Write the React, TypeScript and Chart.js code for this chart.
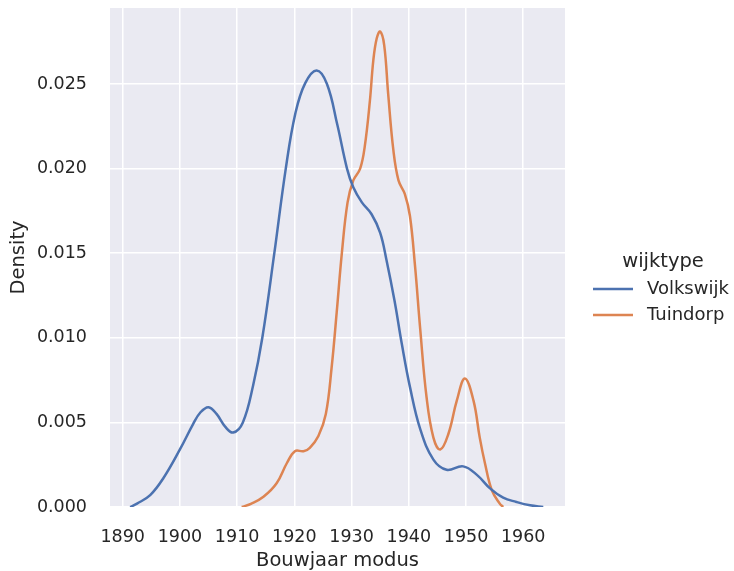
import React, { useEffect, useRef } from "react";
import { Chart, registerables } from "chart.js";

Chart.register(...registerables);

const seriesNames = ["Volkswijk", "Tuindorp"];
const legendTitle = "wijktype";
const xTitle = "Bouwjaar modus";
const yTitle = "Density";

const xTicks = [1890, 1900, 1910, 1920, 1930, 1940, 1950, 1960];
const yTicks = [0, 0.005, 0.01, 0.015, 0.02, 0.025];

const volkswijkYears = [
  1891.3, 1892.5, 1894.8, 1897.1, 1900, 1902.3, 1903.6, 1905, 1906.4, 1907.9,
  1909.3, 1911.0, 1912.8, 1914.4, 1916.5, 1918.5, 1920.2, 1921.9, 1923.9, 1925.7,
  1927.5, 1929.2, 1930.3, 1931.8, 1933.5, 1935.0, 1936.1, 1937.5, 1938.8, 1940.2,
  1942, 1944.3, 1946.6, 1949.5, 1951.9, 1954.2, 1956.5, 1958.8, 1961.2, 1963.5,
];
const volkswijkDensity = [
  0, 0.0002, 0.0007, 0.0017, 0.0034, 0.0049, 0.0056, 0.0059, 0.0055, 0.00475,
  0.0044, 0.005, 0.0072, 0.01, 0.015, 0.02, 0.0233, 0.02505, 0.0258, 0.025,
  0.0226, 0.02, 0.0189, 0.018, 0.0173, 0.0162, 0.0146, 0.0122, 0.0096, 0.0071,
  0.0046, 0.0028, 0.0022, 0.0024, 0.0019, 0.0011, 0.00055, 0.0003, 0.0001, 0,
];

const tuindorpYears = [
  1910.8, 1912.5, 1914.6, 1916.9, 1918.7, 1920.1, 1921.6, 1922.7, 1924.2, 1925.5,
  1926.5, 1927.4, 1928.3, 1929.3, 1930.3, 1931.5, 1932.3, 1933.2, 1933.8, 1934.4,
  1935.0, 1935.7, 1936.4, 1937.3, 1938.2, 1939.3, 1940.2, 1941.1, 1942.0, 1943.1,
  1944.3, 1945.5, 1946.9, 1948.4, 1949.8, 1951.3, 1952.4, 1953.3, 1954.5, 1955.9,
  1956.5,
];
const tuindorpDensity = [
  0, 0.0002, 0.0006, 0.0014, 0.0026, 0.0033, 0.0033, 0.0035, 0.0042, 0.0055,
  0.0082, 0.0115, 0.015, 0.018, 0.0193, 0.02, 0.0213, 0.024, 0.0264, 0.0277,
  0.0281, 0.0273, 0.0244, 0.0211, 0.0193, 0.0185, 0.0172, 0.0142, 0.0105, 0.0065,
  0.0041, 0.0034, 0.0043, 0.0063, 0.0076, 0.0063, 0.0041, 0.0026, 0.001, 0.0002,
  0,
];

const colors = ["#4C72B0", "#DD8452"];
const textColor = "#262626";
const FONT = "'DejaVu Sans', sans-serif";

const toPoints = (xs: number[], ys: number[]) => xs.map((x, i) => ({ x, y: ys[i] }));

export default function App() {
  const ref = useRef<HTMLCanvasElement | null>(null);

  useEffect(() => {
    const canvas = ref.current;
    if (!canvas) return;

    const legendPlugin = {
      id: "customLegend",
      afterDraw(chart: any) {
        const ctx = chart.ctx;
        ctx.save();
        ctx.fillStyle = textColor;
        ctx.textBaseline = "middle";
        ctx.textAlign = "center";
        ctx.font = `19.5px ${FONT}`;
        ctx.fillText(legendTitle, 663, 262);
        ctx.font = `18px ${FONT}`;
        ctx.textAlign = "left";
        seriesNames.forEach((name, i) => {
          const y = 289 + i * 26;
          ctx.strokeStyle = colors[i];
          ctx.lineWidth = 2.5;
          ctx.beginPath();
          ctx.moveTo(593, y);
          ctx.lineTo(633, y);
          ctx.stroke();
          ctx.fillText(name, 647, y);
        });
        ctx.restore();
      },
    };

    const bgPlugin = {
      id: "plotBg",
      beforeDraw(chart: any) {
        const { ctx, chartArea } = chart;
        ctx.save();
        ctx.fillStyle = "#EAEAF2";
        ctx.fillRect(chartArea.left, chartArea.top, chartArea.right - chartArea.left, chartArea.bottom - chartArea.top);
        ctx.restore();
      },
    };

    const chart = new Chart(canvas, {
      type: "line",
      data: {
        datasets: [
          {
            label: seriesNames[0],
            data: toPoints(volkswijkYears, volkswijkDensity),
            borderColor: colors[0],
            borderWidth: 2.5,
            pointRadius: 0,
            tension: 0.4,
            fill: false,
          },
          {
            label: seriesNames[1],
            data: toPoints(tuindorpYears, tuindorpDensity),
            borderColor: colors[1],
            borderWidth: 2.5,
            pointRadius: 0,
            tension: 0.4,
            fill: false,
          },
        ],
      },
      options: {
        responsive: false,
        animation: false,
        layout: { padding: { top: 8, right: 169, left: 9, bottom: 0 } },
        plugins: {
          legend: { display: false },
          tooltip: { enabled: false },
        },
        scales: {
          x: {
            type: "linear",
            min: 1887.78,
            max: 1967.3,
            afterBuildTicks: (scale: any) => {
              scale.ticks = xTicks.map((v) => ({ value: v }));
            },
            afterFit: (scale: any) => {
              scale.height = 64;
              scale.paddingLeft = 0;
              scale.paddingRight = 0;
            },
            grid: { color: "#ffffff", lineWidth: 1.5, drawTicks: false },
            border: { display: false },
            ticks: {
              padding: 20,
              color: textColor,
              font: { family: FONT, size: 17.5 },
              maxRotation: 0,
              callback: (v: any) => String(v),
            },
            title: {
              display: true,
              text: xTitle,
              color: textColor,
              font: { family: FONT, size: 19.5, lineHeight: 1.0 },
              padding: 0,
            },
          },
          y: {
            type: "linear",
            min: 0,
            max: 0.02949,
            afterBuildTicks: (scale: any) => {
              scale.ticks = yTicks.map((v) => ({ value: v }));
            },
            afterFit: (scale: any) => {
              scale.width = 101;
              scale.paddingTop = 0;
              scale.paddingBottom = 0;
            },
            grid: { color: "#ffffff", lineWidth: 1.5, drawTicks: false },
            border: { display: false },
            ticks: {
              padding: 23,
              color: textColor,
              font: { family: FONT, size: 17.5 },
              callback: (v: any) => Number(v).toFixed(3),
            },
            title: {
              display: true,
              text: yTitle,
              color: textColor,
              font: { family: FONT, size: 19.5, lineHeight: 1.0 },
              padding: 0,
            },
          },
        },
      },
      plugins: [bgPlugin, legendPlugin],
    } as any);

    return () => chart.destroy();
  }, []);

  return (
    <div style={{ position: "fixed", left: 0, top: 0, width: 734, height: 571, background: "#ffffff" }}>
      <canvas ref={ref} width={734} height={571} style={{ display: "block" }} />
    </div>
  );
}
